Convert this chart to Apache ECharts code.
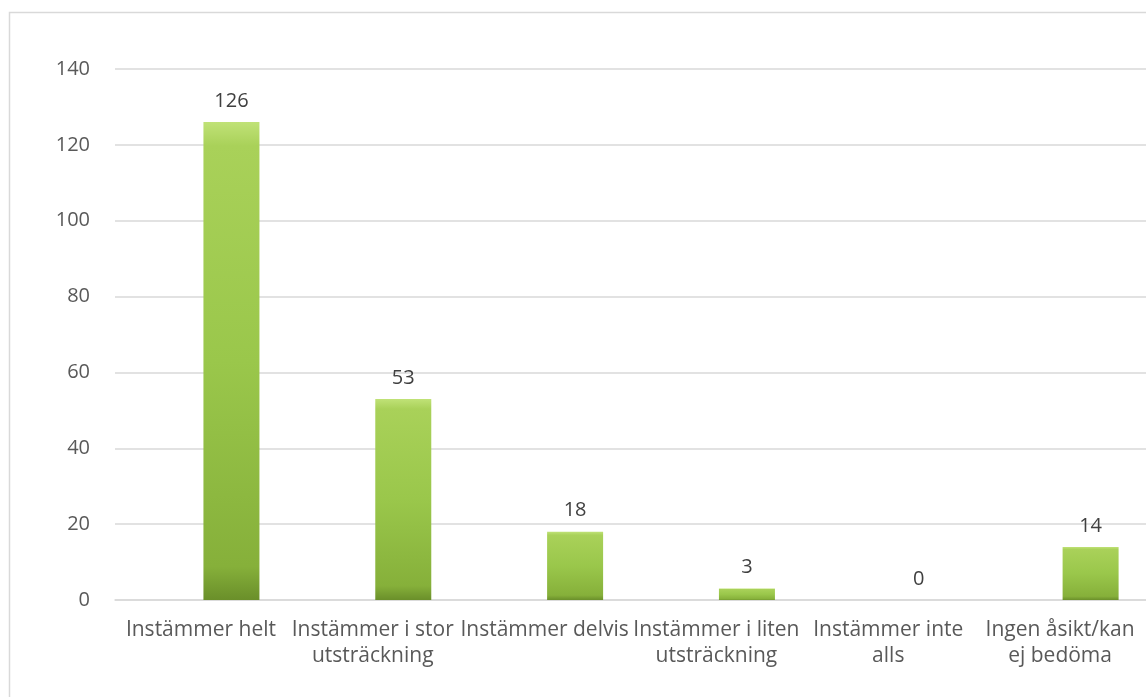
<!DOCTYPE html>
<html>
<head>
<meta charset="utf-8">
<script src="https://cdn.jsdelivr.net/npm/echarts@6/dist/echarts.min.js"></script>
<style>
html,body{margin:0;padding:0;background:#fff;}
#c{width:1146px;height:697px;}
</style>
</head>
<body>
<div id="c"></div>
<script>
const categories = [
  'Instämmer helt',
  'Instämmer i stor\nutsträckning',
  'Instämmer delvis',
  'Instämmer i liten\nutsträckning',
  'Instämmer inte\nalls',
  'Ingen åsikt/kan\nej bedöma'
];
const values = [126, 53, 18, 3, 0, 14];
const placeholder = [null, null, null, null, null, null];
const yTicks = { min: 0, max: 140, interval: 20 };

const chart = echarts.init(document.getElementById('c'));
const barColor = new echarts.graphic.LinearGradient(0, 0, 0, 1, [
  { offset: 0, color: '#c0e277' },
  { offset: 0.05, color: '#a9d159' },
  { offset: 0.5, color: '#9ac74b' },
  { offset: 0.93, color: '#86b03a' },
  { offset: 1, color: '#6a8f2a' }
]);
chart.setOption({
  animation: false,
  backgroundColor: '#fff',
  textStyle: { fontFamily: 'Open Sans' },
  graphic: [{
    type: 'rect',
    shape: { x: 9.5, y: 12.5, width: 1200, height: 720 },
    style: { fill: 'none', stroke: '#d9d9d9', lineWidth: 1.5 },
    silent: true
  }],
  grid: { left: 115, top: 69, width: 1037, height: 531 },
  xAxis: {
    type: 'category',
    data: categories,
    axisTick: { show: false },
    axisLine: { lineStyle: { color: '#d9d9d9', width: 1.5 } },
    axisLabel: {
      interval: 0, color: '#595959', fontSize: 21, lineHeight: 26, margin: 17,
      fontFamily: 'Open Sans'
    }
  },
  yAxis: {
    type: 'value',
    min: yTicks.min, max: yTicks.max, interval: yTicks.interval,
    axisLine: { show: false },
    axisTick: { show: false },
    splitLine: { lineStyle: { color: '#d9d9d9', width: 1.5 } },
    axisLabel: { color: '#595959', fontSize: 20, margin: 25, fontFamily: 'Open Sans' }
  },
  series: [
    {
      type: 'bar', name: 'blank', data: placeholder,
      barWidth: 56, barGap: '9%'
    },
    {
      type: 'bar', name: 'Antal', data: values,
      barWidth: 56, barGap: '9%',
      itemStyle: {
        color: barColor,
        borderWidth: 0
      },
      label: {
        show: true, position: 'top', distance: 11,
        color: '#404040', fontSize: 20, fontFamily: 'Open Sans'
      }
    }
  ]
});
</script>
</body>
</html>
